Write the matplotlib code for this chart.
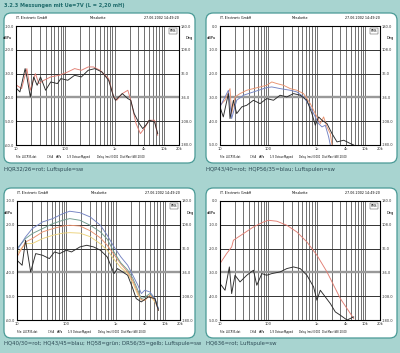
import matplotlib
matplotlib.use("Agg")
import matplotlib.pyplot as plt
from matplotlib.patches import FancyBboxPatch

W, H = 400, 353
BG = "#a8d4d0"
EDGE = "#4a9a96"
TXT = "#2d4a55"
RED = "#e27d72"
BLACK = "#2a2a2a"
BLUE = "#7382c2"
GREEN = "#6f9c8e"
YELLOW = "#ecd27a"
ORANGE = "#e9926e"

title = "3.2.3 Messungen mit Ue=7V (L = 2,20 mH)"

# ---- panel 1: HQR32/26 ----
p1_black_f = [10.3, 12, 15.3, 16.6, 19.5, 22.8, 26.8, 31.4, 39.8, 50.5, 69, 81, 112, 154, 211, 290, 397, 548, 752, 950, 1030, 1420, 1840, 2110, 2470, 3140, 3690, 4260, 4990, 6400, 7400]
p1_black_db = [-36.3, -37.7, -27.9, -31.4, -39.8, -31.4, -34.9, -31.4, -37.0, -33.5, -34.2, -32.1, -32.8, -30.7, -31.4, -28.6, -27.9, -29.3, -32.8, -39.8, -41.2, -38.4, -40.5, -41.2, -46.8, -51.0, -53.1, -51.7, -49.6, -50.3, -55.2]
p1_red_f = [10.3, 13, 16.6, 19.5, 24.7, 29, 36.8, 50.5, 75, 112, 154, 211, 290, 370, 505, 752, 950, 1100, 1420, 1840, 2110, 2700, 3300, 3950, 4990, 6400, 7400]
p1_red_db = [-34.9, -36.3, -27.9, -37.0, -30.0, -34.2, -32.8, -31.4, -30.7, -29.3, -27.9, -28.6, -27.2, -27.2, -28.6, -32.1, -39.8, -41.2, -38.4, -37.0, -41.2, -51.0, -55.2, -53.1, -49.6, -49.6, -55.9]

# ---- panel 2: HQP43/40, HQP56/35 ----
p2_red_f = [10, 12.7, 16.1, 17.4, 20.4, 25.9, 35.6, 49, 67, 92, 117, 149, 204, 281, 385, 529, 728, 924, 1172, 1374, 1611, 1888, 2044]
p2_red_db = [-33.3, -31.2, -26.3, -36.8, -29.8, -28.4, -27.0, -26.3, -25.6, -24.9, -23.5, -24.2, -24.9, -26.3, -27.0, -28.4, -32.6, -36.8, -41.0, -38.2, -42.4, -45.2, -50.0]
p2_blue_f = [10, 14.9, 17.4, 22.1, 30.4, 49, 92, 117, 174, 281, 385, 529, 728, 924, 1083, 1269, 1488, 1744, 1888]
p2_blue_db = [-34.0, -27.0, -38.9, -31.2, -29.1, -27.7, -25.9, -25.6, -26.3, -27.0, -27.7, -29.8, -34.0, -38.2, -41.0, -42.4, -41.7, -46.6, -50.0]
p2_black_f = [10, 11.7, 14.9, 16.1, 18.9, 22.1, 28.1, 35.6, 49, 67, 92, 127, 174, 239, 329, 452, 621, 788, 924, 1083, 1269, 1611, 2044, 2594, 3565, 4898, 5742]
p2_black_db = [-34.0, -38.2, -28.4, -38.9, -31.2, -36.8, -34.0, -33.3, -31.2, -32.6, -30.5, -31.2, -29.1, -29.8, -28.4, -29.1, -31.2, -36.8, -41.7, -38.2, -39.6, -41.0, -45.2, -48.7, -48.0, -49.4, -50.0]

# ---- panel 3: HQ40/30, HQ43/45, HQ58, DR56/35 ----
p3_f = [10, 14.9, 20.4, 32.9, 53, 85, 117, 188, 304, 489, 672, 924, 1269, 1744, 2213, 2809, 3293, 3860, 4898, 6216, 7287]
p3_blue_db = [-30.7, -25.1, -21.6, -18.8, -17.4, -15.3, -14.3, -14.9, -16.7, -20.2, -24.4, -29.3, -33.5, -37.0, -41.2, -45.4, -48.9, -47.5, -48.2, -51.0, -55.2]
p3_green_db = [-30.0, -25.8, -23.7, -21.6, -19.5, -18.1, -17.4, -18.1, -20.2, -23.0, -26.0, -31.5, -36.0, -39.0, -42.5, -47.5, -51.0, -50.5, -48.9, -51.0, -55.2]
p3_red_db = [-33.5, -27.2, -25.8, -23.0, -21.6, -20.5, -20.2, -20.5, -22.5, -25.5, -28.6, -32.5, -36.5, -39.8, -43.5, -48.5, -51.5, -51.7, -49.6, -51.7, -55.9]
p3_yellow_db = [-32.1, -27.9, -27.9, -25.8, -24.4, -23.5, -23.3, -23.5, -25.0, -28.0, -30.7, -34.5, -38.0, -40.5, -44.5, -49.5, -51.5, -51.7, -49.6, -52.4, -55.2]
p3_black_f = [10, 12.7, 14.9, 18.9, 23.9, 32.9, 45.2, 57.4, 73, 100, 127, 188, 259, 356, 489, 672, 924, 1083, 1374, 1744, 2213, 2594, 3293, 4524, 6216, 7287]
p3_black_db = [-34.9, -37.0, -26.5, -39.8, -32.1, -32.8, -34.2, -31.4, -32.1, -30.7, -31.4, -29.3, -28.6, -29.3, -30.7, -33.5, -40.5, -38.4, -39.8, -41.2, -46.8, -51.0, -52.4, -50.3, -51.0, -55.9]

# ---- panel 4: HQ636 ----
p4_red_f = [10, 13.7, 17.4, 18.9, 30.4, 49, 79, 100, 149, 239, 385, 621, 1000, 1611, 2213, 3041, 4179, 5742]
p4_red_db = [-26.3, -22.1, -19.3, -16.5, -13.7, -10.9, -8.8, -8.1, -8.5, -10.2, -13.0, -17.2, -22.8, -29.8, -35.4, -41.0, -45.2, -49.4]
p4_black_f = [10, 12.7, 15.6, 17.4, 20.4, 25.9, 35.6, 49, 57.4, 73, 92, 117, 174, 239, 329, 452, 621, 853, 1000, 1172, 1488, 1888, 2396, 3041, 4179, 5742]
p4_black_db = [-34.7, -37.5, -27.7, -38.9, -31.2, -34.0, -31.2, -29.1, -35.4, -30.5, -31.2, -30.5, -29.8, -28.4, -27.7, -28.4, -31.2, -36.1, -41.7, -37.5, -40.3, -43.1, -46.6, -48.0, -50.0, -48.7]

captions = [
    "HQR32/26=rot; Luftspule=sw",
    "HQP43/40=rot; HQP56/35=blau; Luftspulen=sw",
    "HQ40/30=rot; HQ43/45=blau; HQ58=grün; DR56/35=gelb; Luftspule=sw",
    "HQ636=rot; Luftspule=sw",
]
xtick_vals = [10, 100, 1000, 4000, 10000, 20000]
xtick_labels = ["10", "100", "1k", "4k", "10k", "20k"]
deg_ticks = [180, 108, 36, -36, -108, -180]
grid_freqs = [k * d for d in (10, 100, 1000, 10000) for k in range(1, 10) if k * d <= 20000]


def frac(x0, y0, x1, y1):
    return [x0 / W, 1 - y1 / H, (x1 - x0) / W, (y1 - y0) / H]


def panel(fig, box, plot, top, curves, caption):
    x0, y0, x1, y1 = box
    r = frac(*box)
    fig.patches.append(FancyBboxPatch((r[0], r[1]), r[2], r[3],
                                      boxstyle="round,pad=0,rounding_size=0.018",
                                      mutation_aspect=W / H, transform=fig.transFigure,
                                      facecolor="white", edgecolor=EDGE, lw=0.9, zorder=-5))
    fig.text(x0 / W, 1 - (y1 + 6) / H, caption, fontsize=3.9, color=TXT, va="center")

    ax = fig.add_axes(frac(*plot))
    ax.set_xscale("log")
    ax.set_xlim(10, 20000)
    ax.set_ylim(top - 50, top)
    ax.vlines(grid_freqs, top - 50, top, colors="#595959", lw=0.6, zorder=2)
    levels = [top - 10 * i for i in range(6)]
    ax.hlines(levels, 10, 20000, colors="#333333", lw=0.7, zorder=2)
    ax.hlines(levels[3], 10, 20000, colors="#999999", lw=1.7, zorder=2)
    for f, d, c in curves:
        ax.plot(f, d, color=c, lw=0.65, zorder=3)

    ax.set_xticks(xtick_vals)
    ax.set_xticklabels(xtick_labels)
    ax.minorticks_off()
    ax.set_yticks(levels)
    ax.set_yticklabels(["%.1f" % v for v in levels])
    ax.tick_params(length=0, labelsize=2.6, pad=1.5, colors="#333333")
    for s in ax.spines.values():
        s.set_color("#333333")
        s.set_linewidth(0.6)
    ax.text(-0.055, 0.895, "dBPa", transform=ax.transAxes, fontsize=2.6, ha="center", va="center")

    ax2 = ax.twinx()
    ax2.set_ylim(-180, 180)
    ax2.set_yticks(deg_ticks)
    ax2.set_yticklabels(["%.1f" % v for v in deg_ticks])
    ax2.tick_params(length=0, labelsize=2.6, pad=1.5, colors="#333333")
    ax2.text(1.04, 0.895, "Deg", transform=ax.transAxes, fontsize=2.6, ha="left", va="center")
    ax.text(0.985, 0.975, "RMS", transform=ax.transAxes, fontsize=2.2, ha="right", va="top",
            bbox=dict(boxstyle="square,pad=0.2", fc="white", ec="#333333", lw=0.3), zorder=5)

    # header line
    ax.text(0.0, 1.05, "IT. Electronic GmbH", transform=ax.transAxes, fontsize=2.3, va="bottom")
    ax.text(0.5, 1.05, "Messkette", transform=ax.transAxes, fontsize=2.3, va="bottom", ha="center")
    ax.text(1.0, 1.05, "27.06.2002 14:49:20", transform=ax.transAxes, fontsize=2.3, va="bottom", ha="right")
    # footer line
    foot = [(0.0, "File: LUCP35.dat"), (0.19, "CH A"), (0.245, "dBPa"), (0.31, "1/3 Octave"),
            (0.40, "Mapped"), (0.495, "Delay (ms) 0.000"), (0.64, "Dist Max (dB) 20.00")]
    for fx, t in foot:
        ax.text(fx, -0.085, t, transform=ax.transAxes, fontsize=1.8, va="top")


fig = plt.figure(figsize=(W / 100, H / 100), dpi=100)
fig.patch.set_facecolor(BG)
fig.text(4 / W, 1 - 5 / H, title, fontsize=3.6, fontweight="bold", color="#1f6b6b", va="center")

panel(fig, (4, 13, 195, 163), (16, 26, 179, 145), -10,
      [(p1_red_f, p1_red_db, RED), (p1_black_f, p1_black_db, BLACK)], captions[0])
panel(fig, (206, 13, 397, 163), (220, 26, 380, 145), 0,
      [(p2_red_f, p2_red_db, ORANGE), (p2_blue_f, p2_blue_db, BLUE), (p2_black_f, p2_black_db, BLACK)], captions[1])
panel(fig, (4, 188, 195, 338), (17, 201, 180, 320), -10,
      [(p3_f, p3_yellow_db, YELLOW), (p3_f, p3_red_db, ORANGE), (p3_f, p3_green_db, GREEN),
       (p3_f, p3_blue_db, BLUE), (p3_black_f, p3_black_db, BLACK)], captions[2])
panel(fig, (206, 188, 397, 338), (220, 201, 380, 320), 0,
      [(p4_red_f, p4_red_db, RED), (p4_black_f, p4_black_db, BLACK)], captions[3])

fig.savefig("out.png", dpi=100, facecolor=BG)
